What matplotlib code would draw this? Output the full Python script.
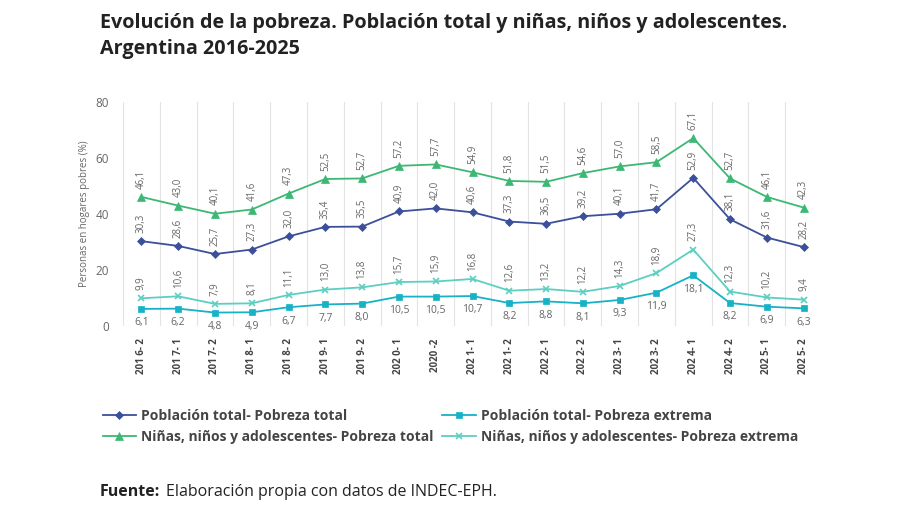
import matplotlib.pyplot as plt
import numpy as np

plt.rcParams['font.family'] = ['Open Sans', 'DejaVu Sans']

periodos = ['201 6- 2', '201 7- 1', '201 7- 2', '201 8- 1', '201 8- 2', '201 9- 1',
            '201 9- 2', '202 0- 1', '2020 -2', '202 1- 1', '202 1- 2', '202 2- 1',
            '202 2- 2', '202 3- 1', '202 3- 2', '202 4- 1', '202 4- 2', '202 5- 1',
            '202 5- 2']
pob_total = [30.3, 28.6, 25.7, 27.3, 32.0, 35.4, 35.5, 40.9, 42.0, 40.6, 37.3, 36.5,
             39.2, 40.1, 41.7, 52.9, 38.1, 31.6, 28.2]
pob_extrema = [6.1, 6.2, 4.8, 4.9, 6.7, 7.7, 8.0, 10.5, 10.5, 10.7, 8.2, 8.8,
               8.1, 9.3, 11.9, 18.1, 8.2, 6.9, 6.3]
nna_total = [46.1, 43.0, 40.1, 41.6, 47.3, 52.5, 52.7, 57.2, 57.7, 54.9, 51.8, 51.5,
             54.6, 57.0, 58.5, 67.1, 52.7, 46.1, 42.3]
nna_extrema = [9.9, 10.6, 7.9, 8.1, 11.1, 13.0, 13.8, 15.7, 15.9, 16.8, 12.6, 13.2,
               12.2, 14.3, 18.9, 27.3, 12.3, 10.2, 9.4]

fig = plt.figure(figsize=(9, 5.05), dpi=100)
ax = fig.add_axes([123 / 900, 1 - 326 / 505, 699 / 900, 224 / 505])

x = np.arange(len(periodos))
lbl_color = '#666666'

series = [
    (pob_total, '#3b4f9b', 'D', 4, 'Población total- Pobreza total', 'up'),
    (pob_extrema, '#17b2c6', 's', 5, 'Población total- Pobreza extrema', 'down'),
    (nna_total, '#3cb874', '^', 6, 'Niñas, niños y adolescentes- Pobreza total', 'up'),
    (nna_extrema, '#5ccfc1', 'x', 5, 'Niñas, niños y adolescentes- Pobreza extrema', 'up'),
]
handles = []
for vals, col, mk, ms, name, pos in series:
    h, = ax.plot(x, vals, color=col, marker=mk, markersize=ms, linewidth=1.3,
                 markeredgewidth=1.2 if mk == 'x' else 0.5, label=name)
    handles.append(h)
    for xi, v in zip(x, vals):
        txt = f'{v:.1f}'.replace('.', ',')
        if pos == 'up':
            ax.annotate(txt, (xi, v), xytext=(0, 6), textcoords='offset points',
                        rotation=90, ha='center', va='bottom', fontsize=7,
                        color=lbl_color)
        else:
            ax.annotate(txt, (xi, v), xytext=(0, -6), textcoords='offset points',
                        ha='center', va='top', fontsize=7.5, color=lbl_color)

ax.set_xlim(-0.5, len(periodos) - 0.5)
ax.set_ylim(0, 80)
ax.set_yticks([0, 20, 40, 60, 80])
ax.tick_params(axis='y', length=0, labelsize=8.5, labelcolor='#666666', pad=10)
ax.set_xticks(x)
ax.set_xticklabels(periodos, rotation=90, fontsize=7, fontweight='bold', color='#444444')
ax.tick_params(axis='x', length=0, pad=9)
for b in np.arange(-0.5, len(periodos), 1.0):
    ax.axvline(b, color='#e3e3e3', linewidth=0.8, zorder=0)
for s in ax.spines.values():
    s.set_visible(False)
ax.set_ylabel('Personas en hogares pobres (%)', fontsize=7, color='#666666', labelpad=4)

leg = fig.legend(handles=[handles[0], handles[2], handles[1], handles[3]],
                 loc='upper left', bbox_to_anchor=(90 / 900, 1 - 396 / 505), ncol=2,
                 frameon=False, handlelength=2.4, handletextpad=0.4, columnspacing=0.6,
                 labelspacing=0.55, prop={'weight': 'bold', 'size': 10})
for t in leg.get_texts():
    t.set_color('#444444')

fig.text(100 / 900, 1 - 13 / 505,
         'Evolución de la pobreza. Población total y niñas, niños y adolescentes.\nArgentina 2016-2025',
         fontsize=14.2, fontweight='bold', color='#222222', va='top', linespacing=1.4)
fig.text(100 / 900, 1 - 492 / 505, 'Fuente:', fontsize=11.5, fontweight='bold',
         color='#222222', va='center')
fig.text(166 / 900, 1 - 492 / 505, 'Elaboración propia con datos de INDEC-EPH.',
         fontsize=11.5, color='#222222', va='center')

plt.savefig('out.png', dpi=100)
